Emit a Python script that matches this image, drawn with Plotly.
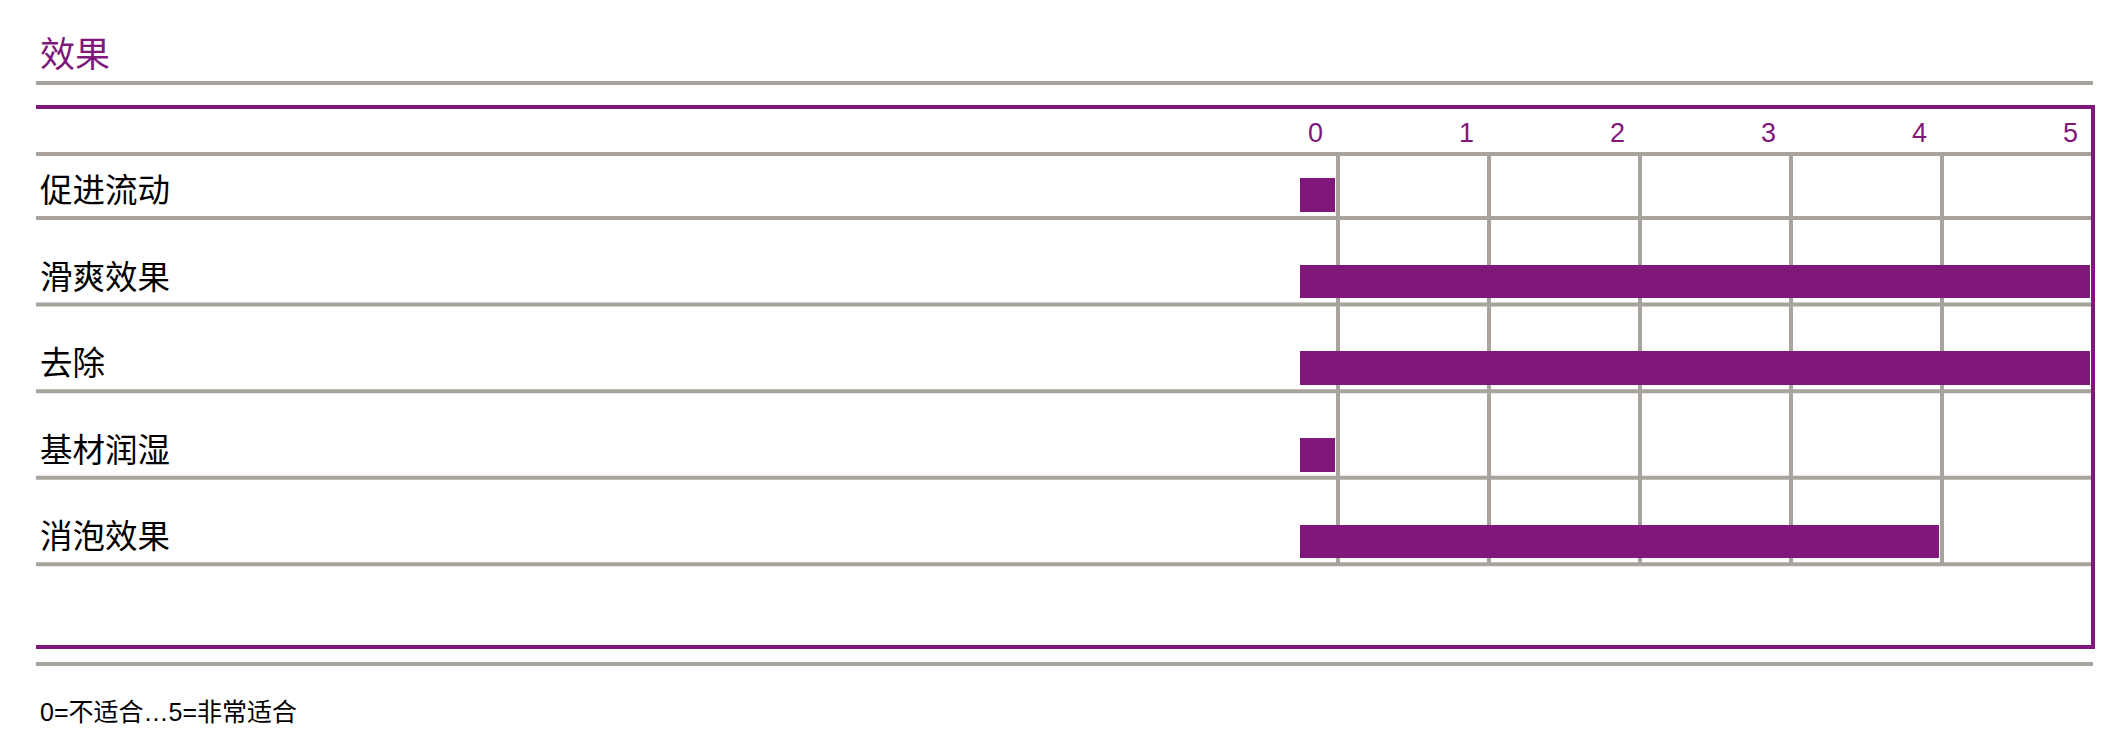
import plotly.graph_objects as go

# ---- data ----
categories = ["促进流动", "滑爽效果", "去除", "基材润湿", "消泡效果"]
values = [0, 5, 5, 0, 4]
tick_values = [0, 1, 2, 3, 4, 5]
tick_labels = ["0", "1", "2", "3", "4", "5"]
title_text = "效果"
footnote_text = "0=不适合…5=非常适合"

# ---- style ----
PURPLE = "#80177A"
GRAY = "#A8A39D"
FONT = "Liberation Sans, Noto Sans CJK SC, sans-serif"
OFF = 8                      # browser body margin
W, H = 2109 - 2 * OFF, 743 - 2 * OFF
ML, MR, MT = 36 - OFF, 8, 107 - OFF
MB = H - (647 - OFF)
STUB = 0.25
BAR_END_GAP = 0.02
X_RANGE = [-8.6225, 5.0]
Y_RANGE = [5.2194, -1.0162]
HEADER_Y = -0.473
ROW_LINE_OFFSET = 0.265
TICK_LABEL_SHIFT = -0.146
TICK_LABEL_Y = -0.716

plot_h = H - MT - MB


def paper_y(pix):
    return (H - MB - (pix - OFF)) / plot_h


fig = go.Figure()
fig.add_trace(go.Bar(
    y=categories,
    x=[v + STUB - BAR_END_GAP for v in values],
    base=[-STUB] * len(values),
    orientation="h",
    width=0.39,
    marker=dict(color=PURPLE, line=dict(width=0)),
    hoverinfo="skip",
))

shapes = []
for k in tick_values[:-1]:
    shapes.append(dict(type="line", xref="x", yref="y", x0=k, x1=k,
                       y0=HEADER_Y, y1=len(categories) - 1 + ROW_LINE_OFFSET,
                       line=dict(color=GRAY, width=4), layer="below"))
row_lines = [HEADER_Y] + [i + ROW_LINE_OFFSET for i in range(len(categories))]
for yy in row_lines:
    shapes.append(dict(type="line", xref="paper", yref="y", x0=0, x1=1,
                       y0=yy, y1=yy, line=dict(color=GRAY, width=4), layer="below"))
e = 2 / plot_h
shapes.append(dict(type="line", xref="paper", yref="paper", x0=0, x1=1, y0=1, y1=1,
                   line=dict(color=PURPLE, width=4)))
shapes.append(dict(type="line", xref="paper", yref="paper", x0=0, x1=1, y0=0, y1=0,
                   line=dict(color=PURPLE, width=4)))
shapes.append(dict(type="line", xref="paper", yref="paper", x0=1, x1=1, y0=-e, y1=1 + e,
                   line=dict(color=PURPLE, width=4)))
for pix in (83, 664):
    shapes.append(dict(type="line", xref="paper", yref="paper", x0=0, x1=1,
                       y0=paper_y(pix), y1=paper_y(pix),
                       line=dict(color=GRAY, width=4)))

annotations = []
annotations.append(dict(text=title_text, xref="paper", yref="paper", x=0, xshift=2,
                        y=paper_y(54), xanchor="left", yanchor="middle", showarrow=False,
                        font=dict(family=FONT, size=35, color=PURPLE)))
for tv, tl in zip(tick_values, tick_labels):
    annotations.append(dict(text=tl, xref="x", yref="y", x=tv + TICK_LABEL_SHIFT,
                            y=TICK_LABEL_Y, xanchor="center", yanchor="middle",
                            showarrow=False, font=dict(family=FONT, size=27, color=PURPLE)))
for c in categories:
    annotations.append(dict(text=c, xref="paper", yref="y", x=0, xshift=2, y=c, yshift=4,
                            xanchor="left", yanchor="middle", showarrow=False,
                            font=dict(family=FONT, size=32.5, color="#000000")))
annotations.append(dict(text=footnote_text, xref="paper", yref="paper", x=0, xshift=2,
                        y=paper_y(712), xanchor="left", yanchor="middle", showarrow=False,
                        font=dict(family=FONT, size=25, color="#000000")))

fig.update_layout(
    width=W, height=H, autosize=False,
    margin=dict(l=ML, r=MR, t=MT, b=MB, pad=0),
    paper_bgcolor="white", plot_bgcolor="white",
    showlegend=False,
    xaxis=dict(range=X_RANGE, showgrid=False, zeroline=False, showticklabels=False,
               showline=False, ticks=""),
    yaxis=dict(type="category", categoryorder="array", categoryarray=categories,
               range=Y_RANGE, showgrid=False, zeroline=False, showticklabels=False,
               showline=False, ticks=""),
    shapes=shapes,
    annotations=annotations,
    bargap=0,
)

fig.write_html("out.html")
